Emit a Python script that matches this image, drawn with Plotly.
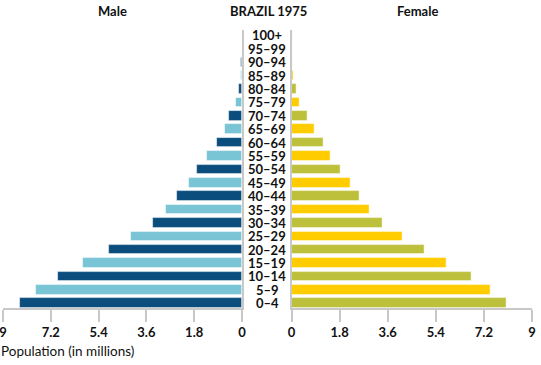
import plotly.graph_objects as go

ages = ["0–4", "5–9", "10–14", "15–19", "20–24", "25–29", "30–34", "35–39", "40–44",
        "45–49", "50–54", "55–59", "60–64", "65–69", "70–74", "75–79", "80–84",
        "85–89", "90–94", "95–99", "100+"]
male = [8.36, 7.77, 6.94, 5.97, 5.02, 4.19, 3.36, 2.86, 2.44, 2.01, 1.68, 1.31,
        0.94, 0.65, 0.48, 0.21, 0.11, 0.05, 0.03, 0.015, 0.01]
female = [8.05, 7.45, 6.73, 5.79, 4.99, 4.16, 3.41, 2.93, 2.55, 2.21, 1.85, 1.47,
          1.20, 0.86, 0.60, 0.30, 0.19, 0.09, 0.05, 0.04, 0.04]
tick_vals = [0, 1.8, 3.6, 5.4, 7.2, 9]
tick_text = ["0", "1.8", "3.6", "5.4", "7.2", "9"]

male_colors = ["#0b4d7d" if i % 2 == 0 else "#79c4d5" for i in range(len(ages))]
female_colors = ["#bdc03a" if i % 2 == 0 else "#ffcc00" for i in range(len(ages))]

W, H = 541, 365
T, B = 30, 57
PH = H - T - B
FONT = "Lato"


def py(pix):
    return (H - B - pix) / PH


fig = go.Figure()
fig.add_trace(go.Bar(y=list(range(len(ages))), x=male, orientation="h",
                     marker=dict(color=male_colors, line=dict(color="rgba(255,255,255,0.6)", width=0.8)),
                     width=0.71, xaxis="x", yaxis="y", showlegend=False, hoverinfo="skip"))
fig.add_trace(go.Bar(y=list(range(len(ages))), x=female, orientation="h",
                     marker=dict(color=female_colors, line=dict(color="rgba(255,255,255,0.6)", width=0.8)),
                     width=0.71, xaxis="x2", yaxis="y2", showlegend=False, hoverinfo="skip"))

yr = [-0.355, 20.41]
axis_common = dict(tickmode="array", tickvals=tick_vals, ticktext=tick_text,
                   ticks="outside", ticklen=12, tickcolor="#c8c8c8", tickwidth=1.5,
                   showline=True, linecolor="#c8c8c8", linewidth=1.5,
                   showgrid=False, zeroline=False, fixedrange=True, automargin=False,
                   ticklabeloverflow="allow",
                   tickfont=dict(family=FONT, size=13, color="#111", weight="bold"))
yaxis_common = dict(range=yr, showticklabels=False, ticks="", automargin=False,
                    showline=True, linecolor="#c8c8c8", linewidth=1.5,
                    showgrid=False, zeroline=False, fixedrange=True)

fig.update_layout(
    width=W, height=H,
    margin=dict(l=0, r=0, t=T, b=B, autoexpand=False),
    paper_bgcolor="white", plot_bgcolor="white",
    bargap=0,
    xaxis=dict(domain=[3 / W, 242 / W], range=[9, 0], anchor="y", **axis_common),
    xaxis2=dict(domain=[291.5 / W, 532 / W], range=[0, 9], anchor="y2", **axis_common),
    yaxis=dict(anchor="x", side="right", **yaxis_common),
    yaxis2=dict(anchor="x2", side="left", **yaxis_common),
)

for i, a in enumerate(ages):
    fig.add_annotation(x=267 / W, xref="paper", y=i, yref="y", text=a, showarrow=False,
                       xanchor="center", yanchor="middle",
                       font=dict(family=FONT, size=13, color="#111", weight="bold"))

titles = [("Male", 112), ("BRAZIL 1975", 268), ("Female", 417)]
for t, xc in titles:
    fig.add_annotation(x=xc / W, xref="paper", y=py(11), yref="paper", yanchor="middle",
                       text=t, showarrow=False, xanchor="center",
                       font=dict(family=FONT, size=13, color="#111", weight="bold"))

fig.add_annotation(x=-1 / W, xref="paper", y=py(351), yref="paper", yanchor="middle",
                   text="Population (in millions)", showarrow=False, xanchor="left",
                   font=dict(family=FONT, size=13.5, color="#111"))

fig.write_html("out.html", config={"displayModeBar": False},
               post_script="document.body.style.margin='0px';")
